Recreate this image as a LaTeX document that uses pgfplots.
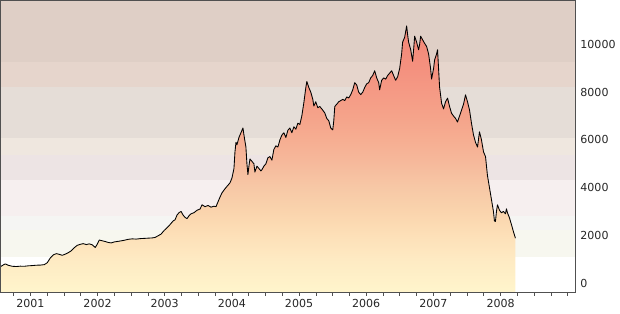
\documentclass[border=0pt]{standalone}
\usepackage{pgfplots}
\usepackage{pgfplotstable}
\pgfplotsset{compat=1.18}
\usepackage{fontspec}
\setmainfont{DejaVu Sans}
\definecolor{bandA}{HTML}{DFCFC6}
\definecolor{bandB}{HTML}{E6D5CC}
\definecolor{bandC}{HTML}{E5DDD7}
\definecolor{bandD}{HTML}{EFE7DF}
\definecolor{bandE}{HTML}{EDE4E4}
\definecolor{bandF}{HTML}{F6EFEF}
\definecolor{bandG}{HTML}{F5F5F3}
\definecolor{bandH}{HTML}{F7F7EF}
\definecolor{axcol}{HTML}{505050}
\definecolor{s0}{HTML}{FFF5CC}
\definecolor{s1}{HTML}{FEEAC3}
\definecolor{s2}{HTML}{FDE0B8}
\definecolor{s3}{HTML}{FAD4AD}
\definecolor{s4}{HTML}{F7C8A6}
\definecolor{s5}{HTML}{F6BA9C}
\definecolor{s6}{HTML}{F6AE92}
\definecolor{s7}{HTML}{F5A38A}
\definecolor{s8}{HTML}{F59A85}
\definecolor{s9}{HTML}{F4917F}
\definecolor{s10}{HTML}{F28676}
\pgfdeclareverticalshading{areashade}{100bp}{color(0bp)=(s0); color(25bp)=(s0); color(31.3bp)=(s1); color(35.7bp)=(s2); color(40.2bp)=(s3); color(44.7bp)=(s4); color(49.1bp)=(s5); color(53.6bp)=(s6); color(58.1bp)=(s7); color(62.6bp)=(s8); color(67bp)=(s9); color(75bp)=(s10); color(100bp)=(s10)}
\pgfplotstableread{
x y
2000.554 680
2000.599 760
2000.628 800
2000.673 740
2000.732 700
2000.792 690
2000.851 705
2000.911 700
2000.970 720
2001.030 730
2001.089 745
2001.148 750
2001.208 770
2001.252 850
2001.297 1050
2001.342 1180
2001.386 1230
2001.431 1200
2001.475 1160
2001.520 1210
2001.564 1270
2001.609 1350
2001.654 1480
2001.698 1580
2001.743 1620
2001.787 1650
2001.832 1610
2001.876 1640
2001.921 1600
2001.966 1490
2001.995 1620
2002.025 1800
2002.070 1770
2002.114 1740
2002.159 1700
2002.203 1680
2002.248 1720
2002.292 1740
2002.337 1760
2002.396 1790
2002.456 1830
2002.515 1850
2002.575 1840
2002.634 1860
2002.694 1870
2002.753 1880
2002.813 1890
2002.857 1910
2002.902 1980
2002.946 2050
2002.991 2200
2003.035 2320
2003.080 2450
2003.125 2600
2003.154 2650
2003.184 2850
2003.214 2950
2003.244 3000
2003.273 2850
2003.303 2750
2003.333 2700
2003.362 2820
2003.392 2900
2003.437 2950
2003.481 3050
2003.526 3100
2003.556 3280
2003.600 3200
2003.645 3250
2003.689 3180
2003.734 3220
2003.764 3200
2003.793 3400
2003.823 3600
2003.853 3780
2003.897 3950
2003.942 4100
2003.972 4200
2004.001 4400
2004.031 4800
2004.046 5500
2004.061 5900
2004.076 5800
2004.105 6100
2004.135 6300
2004.165 6500
2004.180 6200
2004.209 5700
2004.224 5000
2004.239 4550
2004.254 4900
2004.269 5200
2004.299 5100
2004.328 5000
2004.343 4650
2004.373 4900
2004.403 4800
2004.432 4700
2004.447 4750
2004.477 4900
2004.507 5000
2004.536 5250
2004.566 5300
2004.596 5150
2004.625 5600
2004.655 5750
2004.685 5700
2004.715 6000
2004.744 6200
2004.774 6300
2004.804 6100
2004.833 6400
2004.863 6500
2004.893 6300
2004.923 6550
2004.952 6450
2004.982 6700
2005.012 6650
2005.041 7000
2005.071 7550
2005.101 8200
2005.116 8450
2005.145 8200
2005.175 8000
2005.205 7700
2005.220 7420
2005.249 7600
2005.279 7350
2005.309 7400
2005.339 7300
2005.383 7130
2005.413 6900
2005.443 6800
2005.472 6500
2005.502 6420
2005.517 6800
2005.532 7400
2005.562 7500
2005.591 7600
2005.621 7650
2005.651 7700
2005.680 7650
2005.710 7800
2005.740 7760
2005.770 7900
2005.799 8100
2005.829 8400
2005.859 8300
2005.888 8000
2005.918 7900
2005.948 8000
2005.978 8200
2006.007 8350
2006.037 8400
2006.067 8600
2006.096 8700
2006.126 8900
2006.156 8600
2006.186 8400
2006.200 8100
2006.230 8500
2006.260 8600
2006.290 8550
2006.319 8700
2006.349 8800
2006.379 8900
2006.408 8700
2006.438 8500
2006.468 8650
2006.498 9000
2006.527 9600
2006.542 10100
2006.572 10300
2006.602 10780
2006.617 10400
2006.631 10100
2006.661 9800
2006.691 9300
2006.706 9800
2006.721 10350
2006.750 10100
2006.780 9780
2006.795 10000
2006.810 10350
2006.839 10200
2006.869 10050
2006.899 9920
2006.929 9600
2006.958 9000
2006.973 8550
2007.003 9000
2007.018 9350
2007.047 9600
2007.062 9780
2007.077 9000
2007.092 8220
2007.122 7540
2007.151 7300
2007.181 7600
2007.211 7750
2007.241 7400
2007.270 7120
2007.300 7000
2007.330 6900
2007.359 6750
2007.389 7000
2007.419 7250
2007.449 7500
2007.478 7890
2007.508 7600
2007.538 7250
2007.567 6700
2007.597 6210
2007.627 5900
2007.657 5700
2007.686 6340
2007.716 6000
2007.746 5500
2007.776 5300
2007.805 4500
2007.835 4000
2007.865 3488
2007.894 3000
2007.909 2600
2007.924 2580
2007.939 3000
2007.954 3280
2007.984 3050
2008.013 2944
2008.043 3000
2008.073 2900
2008.088 3111
2008.102 2950
2008.132 2735
2008.162 2450
2008.192 2149
2008.221 1880
}\data
\begin{document}
\begin{tikzpicture}
\path (0,-16pt) rectangle (465pt,219.5pt);
\begin{axis}[
  scale only axis,
  width=432pt, height=219.5pt,
  xmin=2000.554, xmax=2009.113,
  ymin=-400, ymax=11850,
  axis on top,
  axis line style={axcol, line width=0.6pt},
  xtick={2001,2002,2003,2004,2005,2006,2007,2008},
  xticklabels={2001,2002,2003,2004,2005,2006,2007,2008},
  minor xtick={2000.75,2001,2001.25,2001.5,2001.75,2002,2002.25,2002.5,2002.75,2003,2003.25,2003.5,2003.75,2004,2004.25,2004.5,2004.75,2005,2005.25,2005.5,2005.75,2006,2006.25,2006.5,2006.75,2007,2007.25,2007.5,2007.75,2008,2008.25,2008.5,2008.75,2009},
  xtick pos=bottom,
  tick align=outside,
  major tick length=2.3pt,
  minor tick length=2.3pt,
  every tick/.style={axcol, line width=0.5pt},
  ytick={0,2000,4000,6000,8000,10000},
  yticklabels={0,2000,4000,6000,8000,10000},
  ytick pos=right,
  yticklabel pos=right,
  ytick style={draw=none},
  scaled y ticks=false,
  tick label style={font=\fontsize{8.3}{10}\selectfont, text=black!85},
  xticklabel style={yshift=0.5pt},
  yticklabel style={xshift=-2pt},
]
\addplot[fill=bandA, draw=none, forget plot] coordinates {(2000.554,9280) (2009.113,9280) (2009.113,11850) (2000.554,11850)};
\addplot[fill=bandB, draw=none, forget plot] coordinates {(2000.554,8208) (2009.113,8208) (2009.113,9280) (2000.554,9280)};
\addplot[fill=bandC, draw=none, forget plot] coordinates {(2000.554,6072) (2009.113,6072) (2009.113,8208) (2000.554,8208)};
\addplot[fill=bandD, draw=none, forget plot] coordinates {(2000.554,5373) (2009.113,5373) (2009.113,6072) (2000.554,6072)};
\addplot[fill=bandE, draw=none, forget plot] coordinates {(2000.554,4326) (2009.113,4326) (2009.113,5373) (2000.554,5373)};
\addplot[fill=bandF, draw=none, forget plot] coordinates {(2000.554,2789) (2009.113,2789) (2009.113,4326) (2000.554,4326)};
\addplot[fill=bandG, draw=none, forget plot] coordinates {(2000.554,2232) (2009.113,2232) (2009.113,2789) (2000.554,2789)};
\addplot[fill=bandH, draw=none, forget plot] coordinates {(2000.554,1089) (2009.113,1089) (2009.113,2232) (2000.554,2232)};
\addplot[draw=none, shade, shading=areashade, forget plot] table {\data} -- (axis cs:2008.221,-400) -- (axis cs:2000.554,-400) -- cycle;
\addplot[black, line width=0.65pt, line join=round, mark=none] table {\data};
\end{axis}
\end{tikzpicture}
\end{document}
